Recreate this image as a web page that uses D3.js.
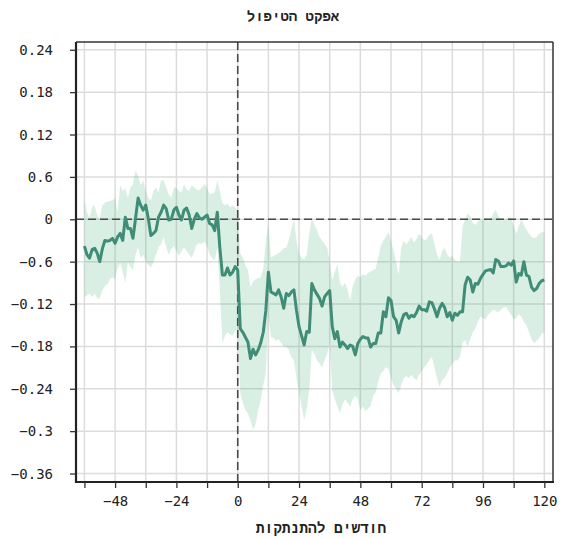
<!DOCTYPE html>
<html><head><meta charset="utf-8">
<script src="https://cdn.jsdelivr.net/npm/d3@7"></script>
<style>body{margin:0;background:#fff}</style>
</head><body>
<svg id="chart" width="564" height="539"></svg>
<script>
const title = "אפקט הטיפול";
const xLabel = "חודשים להתנתקות";
const months = d3.range(-60, 121);
const effect = [
-0.038,-0.050,-0.055,-0.043,-0.041,-0.048,-0.060,-0.042,-0.030,-0.031,
-0.030,-0.027,-0.034,-0.025,-0.020,-0.030,0.003,-0.013,-0.013,-0.027,
0.001,0.030,0.020,0.013,0.020,0.001,-0.023,-0.020,-0.016,0.003,
0.010,0.020,0.015,-0.001,0.000,0.013,0.017,0.006,-0.001,0.013,
0.016,0.006,-0.013,0.000,0.008,0.002,0.000,0.003,0.006,-0.006,
-0.008,-0.016,0.010,-0.040,-0.079,-0.079,-0.069,-0.079,-0.075,-0.067,
-0.072,
-0.155,-0.160,-0.167,-0.174,-0.197,-0.184,-0.192,-0.185,-0.175,-0.160,
-0.129,-0.075,-0.103,-0.105,-0.107,-0.100,-0.110,-0.126,-0.105,-0.108,
-0.103,-0.100,-0.129,-0.152,-0.165,-0.178,-0.159,-0.160,-0.091,-0.100,
-0.106,-0.112,-0.123,-0.110,-0.105,-0.101,-0.152,-0.169,-0.159,-0.181,
-0.174,-0.178,-0.183,-0.178,-0.180,-0.192,-0.176,-0.170,-0.166,-0.168,
-0.168,-0.181,-0.176,-0.176,-0.161,-0.161,-0.131,-0.138,-0.111,-0.115,
-0.138,-0.143,-0.161,-0.145,-0.135,-0.133,-0.140,-0.136,-0.138,-0.132,
-0.123,-0.128,-0.128,-0.130,-0.117,-0.118,-0.127,-0.138,-0.126,-0.119,
-0.125,-0.138,-0.132,-0.143,-0.133,-0.136,-0.131,-0.131,-0.093,-0.082,
-0.086,-0.103,-0.091,-0.092,-0.084,-0.078,-0.073,-0.072,-0.071,-0.076,
-0.057,-0.059,-0.067,-0.067,-0.066,-0.062,-0.065,-0.059,-0.089,-0.077,
-0.079,-0.060,-0.079,-0.081,-0.096,-0.101,-0.098,-0.091,-0.087,-0.086
];
const upper = [
0.027,0.010,0.002,0.017,0.020,0.005,0.000,0.020,0.023,0.025,
0.026,0.027,0.030,0.010,0.048,0.040,0.044,0.030,0.045,0.050,
0.069,0.062,0.048,0.055,0.040,0.030,0.027,0.040,0.045,0.038,
0.055,0.055,0.045,0.035,0.030,0.045,0.045,0.040,0.038,0.050,
0.042,0.040,0.048,0.045,0.042,0.041,0.045,0.050,0.045,0.035,
0.037,0.038,0.055,0.040,0.023,0.020,0.022,0.017,0.020,0.017,
0.012,
-0.048,-0.055,-0.065,-0.072,-0.096,-0.088,-0.085,-0.083,-0.082,-0.070,
-0.030,-0.006,-0.054,-0.052,-0.050,-0.048,-0.045,-0.041,-0.040,-0.030,
-0.015,0.001,-0.030,-0.048,-0.055,-0.057,-0.050,-0.020,0.003,-0.008,
-0.015,-0.025,-0.030,-0.035,-0.040,-0.060,-0.086,-0.075,-0.063,-0.090,
-0.096,-0.090,-0.100,-0.115,-0.095,-0.085,-0.080,-0.082,-0.078,-0.080,
-0.076,-0.074,-0.072,-0.070,-0.055,-0.037,-0.030,-0.025,-0.018,-0.030,
-0.045,-0.060,-0.079,-0.040,-0.030,-0.035,-0.030,-0.025,-0.033,-0.028,
-0.020,-0.025,-0.030,-0.028,-0.022,-0.020,-0.035,-0.050,-0.058,-0.045,
-0.040,-0.050,-0.054,-0.052,-0.058,-0.060,-0.060,-0.010,0.000,0.008,
0.005,-0.005,-0.008,-0.003,0.000,-0.002,0.002,-0.003,0.000,0.008,
0.013,0.005,-0.002,-0.001,0.000,0.002,0.003,-0.010,-0.020,-0.010,
0.000,-0.008,-0.015,-0.020,-0.025,-0.027,-0.025,-0.020,-0.018,-0.018
];
const lower = [
-0.110,-0.108,-0.105,-0.110,-0.105,-0.112,-0.112,-0.100,-0.095,-0.092,
-0.085,-0.082,-0.085,-0.070,-0.062,-0.075,-0.090,-0.060,-0.068,-0.072,
-0.050,-0.040,-0.055,-0.050,-0.060,-0.065,-0.068,-0.062,-0.050,-0.040,
-0.035,-0.025,-0.040,-0.050,-0.042,-0.038,-0.045,-0.052,-0.045,-0.040,
-0.045,-0.050,-0.055,-0.045,-0.035,-0.034,-0.035,-0.032,-0.038,-0.050,
-0.055,-0.058,-0.040,-0.100,-0.176,-0.165,-0.160,-0.163,-0.165,-0.158,
-0.155,
-0.246,-0.260,-0.270,-0.275,-0.285,-0.298,-0.290,-0.270,-0.256,-0.235,
-0.218,-0.138,-0.167,-0.168,-0.172,-0.170,-0.175,-0.181,-0.180,-0.185,
-0.195,-0.200,-0.225,-0.246,-0.265,-0.284,-0.270,-0.240,-0.185,-0.190,
-0.200,-0.204,-0.210,-0.200,-0.190,-0.176,-0.242,-0.255,-0.265,-0.275,
-0.262,-0.255,-0.260,-0.265,-0.255,-0.250,-0.255,-0.270,-0.265,-0.272,
-0.268,-0.265,-0.250,-0.245,-0.230,-0.218,-0.215,-0.209,-0.212,-0.225,
-0.235,-0.240,-0.246,-0.235,-0.225,-0.222,-0.225,-0.220,-0.225,-0.228,
-0.220,-0.215,-0.210,-0.205,-0.200,-0.195,-0.210,-0.225,-0.238,-0.228,
-0.225,-0.218,-0.210,-0.205,-0.200,-0.200,-0.195,-0.175,-0.171,-0.180,
-0.170,-0.160,-0.155,-0.145,-0.138,-0.140,-0.142,-0.135,-0.132,-0.128,
-0.130,-0.132,-0.128,-0.125,-0.124,-0.130,-0.135,-0.142,-0.140,-0.135,
-0.138,-0.145,-0.150,-0.160,-0.170,-0.176,-0.172,-0.168,-0.162,-0.160
];
const xTicks = [-60,-48,-36,-24,-12,0,12,24,36,48,60,72,84,96,108,120];
const xLabelled = [-48,-24,0,24,48,72,96,120];
const yTicks = [0.24,0.18,0.12,0.06,0,-0.06,-0.12,-0.18,-0.24,-0.3,-0.36];
const yTickLabels = ["0.24","0.18","0.12","0.6","0","−0.6","−0.12","−0.18","−0.24","−0.3","−0.36"];

const data = months.map((m,i)=>({m, v:effect[i], lo:lower[i], hi:upper[i]}));
const svg = d3.select("#chart");
const L=76, R=553, T=42, B=482;
const x = d3.scaleLinear().domain([-63.3,123.4]).range([L,R]);
const y = d3.scaleLinear().domain([-0.372,0.251]).range([B,T]);
const font = "'DejaVu Sans Mono', monospace";
const hebFont = "'Liberation Mono', 'DejaVu Sans Mono', monospace";

// grid
const g = svg.append("g");
g.selectAll(".vg").data(xTicks).join("line")
 .attr("x1",d=>x(d)).attr("x2",d=>x(d)).attr("y1",T).attr("y2",B)
 .attr("stroke","#dcdcdc").attr("stroke-width",1.5);
g.selectAll(".hg").data(yTicks).join("line")
 .attr("y1",d=>y(d)).attr("y2",d=>y(d)).attr("x1",L).attr("x2",R)
 .attr("stroke","#dcdcdc").attr("stroke-width",1.5);

// band
svg.append("path").datum(data)
 .attr("d", d3.area().x(d=>x(d.m)).y0(d=>y(d.lo)).y1(d=>y(d.hi)))
 .attr("fill","#3fb07a").attr("fill-opacity",0.2);

// reference lines
svg.append("line").attr("x1",L).attr("x2",R).attr("y1",y(0)).attr("y2",y(0))
 .attr("stroke","#4a4a4a").attr("stroke-width",1.6).attr("stroke-dasharray","8,4");
svg.append("line").attr("x1",x(0)).attr("x2",x(0)).attr("y1",T).attr("y2",B)
 .attr("stroke","#4a4a4a").attr("stroke-width",1.6).attr("stroke-dasharray","8,4");

// line
svg.append("path").datum(data)
 .attr("d", d3.line().x(d=>x(d.m)).y(d=>y(d.v)))
 .attr("fill","none").attr("stroke","#3f8c77").attr("stroke-width",3).attr("stroke-linejoin","round");

// frame
svg.append("line").attr("x1",L).attr("x2",R).attr("y1",T).attr("y2",T).attr("stroke","#333").attr("stroke-width",1.5);
svg.append("line").attr("x1",R).attr("x2",R).attr("y1",T).attr("y2",B).attr("stroke","#333").attr("stroke-width",1.5);

// axes
const xAxis = d3.axisBottom(x).tickValues(xTicks).tickSize(6).tickSizeOuter(0)
 .tickFormat(d=> xLabelled.includes(d) ? (d<0?"−"+(-d):String(d)) : "");
const xa = svg.append("g").attr("transform",`translate(0,${B})`).call(xAxis);
xa.select(".domain").attr("stroke","#222").attr("stroke-width",2.2).attr("d",`M${L-1},0H${R+1}`);
xa.selectAll(".tick line").attr("stroke","#333").attr("stroke-width",1.3);
xa.selectAll("text").attr("font-family",font).attr("font-size",14).attr("fill","#222").attr("dy","1.05em");

const yAxis = d3.axisLeft(y).tickValues(yTicks).tickSize(6).tickSizeOuter(0)
 .tickFormat((d,i)=>yTickLabels[i]);
const ya = svg.append("g").attr("transform",`translate(${L},0)`).call(yAxis);
ya.select(".domain").attr("stroke","#222").attr("stroke-width",2.2).attr("d",`M0,${T}V${B+1}`);
ya.selectAll(".tick line").attr("stroke","#333").attr("stroke-width",1.3);
ya.selectAll("text").attr("font-family",font).attr("font-size",14).attr("fill","#222").attr("x",-23);

// titles
svg.append("text").attr("x",293).attr("y",21).attr("text-anchor","middle")
 .attr("font-family",hebFont).attr("font-size",14).attr("font-weight","bold").attr("fill","#222").text(title);
svg.append("text").attr("x",321).attr("y",533).attr("text-anchor","middle")
 .attr("font-family",hebFont).attr("font-size",14.5).attr("font-weight","bold").attr("fill","#222").text(xLabel);
</script>
</body></html>
